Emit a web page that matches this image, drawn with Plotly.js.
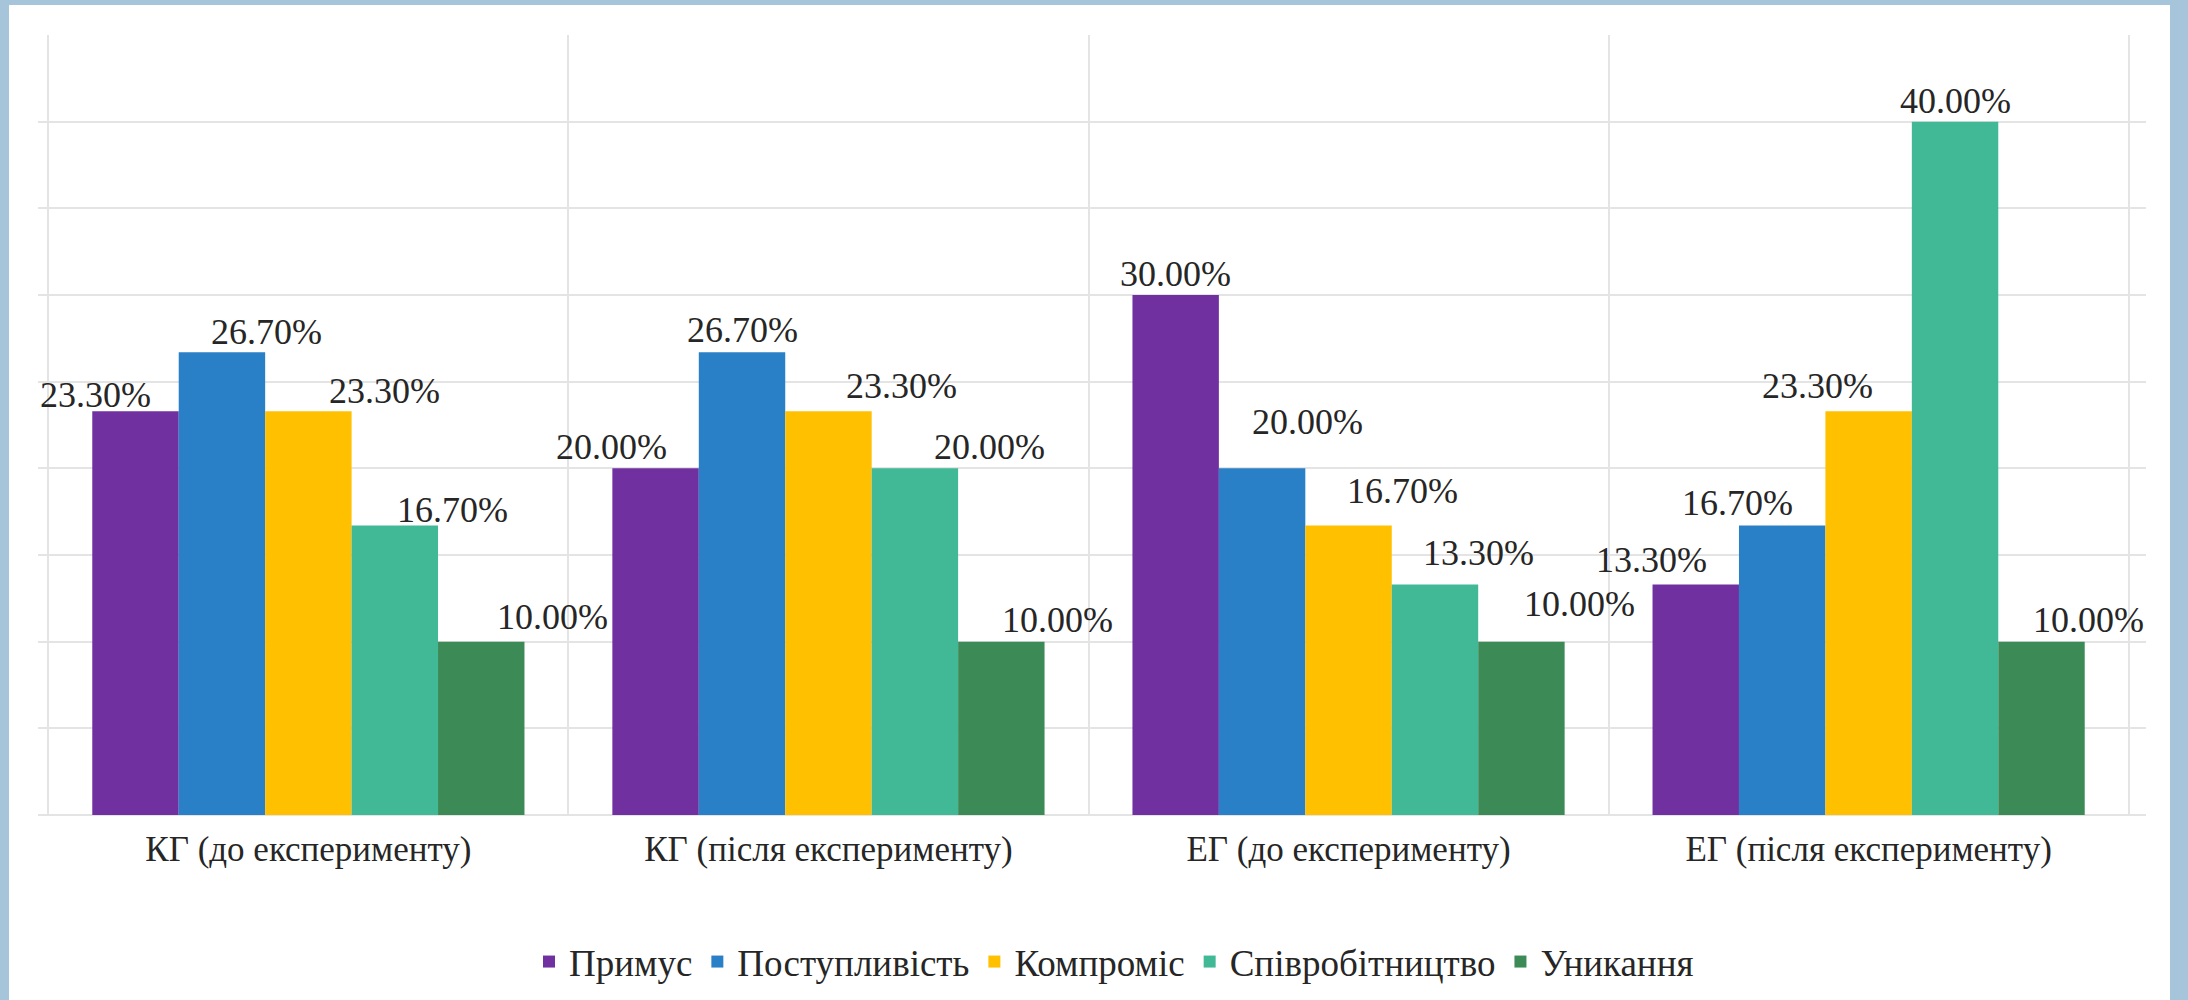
<!DOCTYPE html>
<html>
<head>
<meta charset="utf-8">
<script src="https://cdn.plot.ly/plotly-3.0.1.min.js"></script>
<style>
  html, body { margin: 0; padding: 0; background: #A6C4DA; }
  #chart { width: 2188px; height: 1000px; }
</style>
</head>
<body>
<div id="chart"></div>
<script>
// ---- data ----
const categories = ['КГ (до експерименту)', 'КГ (після експерименту)', 'ЕГ (до експерименту)', 'ЕГ (після експерименту)'];
const seriesNames = ['Примус', 'Поступливість', 'Компроміс', 'Співробітництво', 'Уникання'];
const primus      = [23.3, 20.0, 30.0, 13.3];
const postup      = [26.7, 26.7, 20.0, 16.7];
const kompromis   = [23.3, 23.3, 16.7, 23.3];
const spivrob     = [16.7, 20.0, 13.3, 40.0];
const unykannia   = [10.0, 10.0, 10.0, 10.0];
const seriesValues = [primus, postup, kompromis, spivrob, unykannia];

// ---- style ----
const colors = ['#7030A0', '#2A80C6', '#FFC000', '#41B996', '#3C8A55'];
const FONT = 'Liberation Serif';
const TEXT_COLOR = '#262626';
const GRID = '#E4E4E4';
const BARGAP = 0.169;
// label nudges (px) per series (rows) and category (cols), mimicking the original placement
const labelDx = [
  [-40, -44,   0, -44],
  [ 45,   0,  45, -45],
  [ 76,  73,  54, -51],
  [ 58,  75,  44,   0],
  [ 71,  56,  58,  47]
];
const labelGap = [
  [ 3,  8,  8, 11],
  [ 7,  9, 33, 10],
  [ 7, 12, 22, 12],
  [ 3,  8, 18,  8],
  [12,  9, 25,  9]
];

const traces = seriesNames.map((name, i) => ({
  type: 'bar',
  name: name,
  x: categories,
  y: seriesValues[i],
  marker: { color: colors[i], line: { width: 0 } },
  hoverinfo: 'skip'
}));

const nS = seriesNames.length;
const barW = (1 - BARGAP) / nS;
const annotations = [];
seriesValues.forEach((vals, i) => {
  vals.forEach((v, j) => {
    annotations.push({
      xref: 'x', yref: 'y',
      x: j + (i - (nS - 1) / 2) * barW,
      y: v,
      text: v.toFixed(2) + '%',
      showarrow: false,
      xanchor: 'center', yanchor: 'bottom',
      xshift: labelDx[i][j],
      yshift: labelGap[i][j] - 9,
      font: { family: FONT, size: 36, color: TEXT_COLOR }
    });
  });
});

const L = 38, R = 2146, T = 35, B = 815, W = 2188, H = 1000;
const pw = R - L, ph = B - T;
const px2x = p => (p - L) / pw;
const px2y = p => (B - p) / ph;

const layout = {
  width: W, height: H,
  margin: { l: L, r: W - R, t: T, b: H - B, pad: 0, autoexpand: false },
  paper_bgcolor: '#A6C4DA',
  plot_bgcolor: 'rgba(0,0,0,0)',
  barmode: 'group',
  bargap: BARGAP,
  bargroupgap: 0,
  showlegend: true,
  legend: {
    orientation: 'h',
    x: px2x(1114), xanchor: 'center',
    y: px2y(962), yanchor: 'middle',
    font: { family: FONT, size: 37, color: TEXT_COLOR },
    itemwidth: 30,
    bgcolor: 'rgba(0,0,0,0)',
    traceorder: 'normal'
  },
  xaxis: {
    type: 'category',
    tickson: 'boundaries',
    showgrid: true, gridcolor: GRID, gridwidth: 2,
    showline: false, zeroline: false,
    ticks: '', ticklabelstandoff: 10,
    tickfont: { family: FONT, size: 35, color: TEXT_COLOR },
    fixedrange: true
  },
  yaxis: {
    range: [0, 45], tick0: 0, dtick: 5,
    showticklabels: false,
    showgrid: true, gridcolor: GRID, gridwidth: 2,
    showline: false,
    zeroline: false,
    fixedrange: true
  },
  shapes: [{
    type: 'rect', layer: 'below',
    xref: 'paper', yref: 'paper',
    x0: px2x(9), x1: px2x(2170), y0: px2y(1010), y1: px2y(5),
    fillcolor: '#FFFFFF', line: { width: 0 }
  }, {
    type: 'line', layer: 'below',
    xref: 'paper', yref: 'paper',
    x0: 0, x1: 1, y0: 0, y1: 0,
    line: { color: GRID, width: 2 }
  }],
  annotations: annotations,
  font: { family: FONT, color: TEXT_COLOR }
};

Plotly.newPlot('chart', traces, layout, { displayModeBar: false, staticPlot: true });
</script>
</body>
</html>
